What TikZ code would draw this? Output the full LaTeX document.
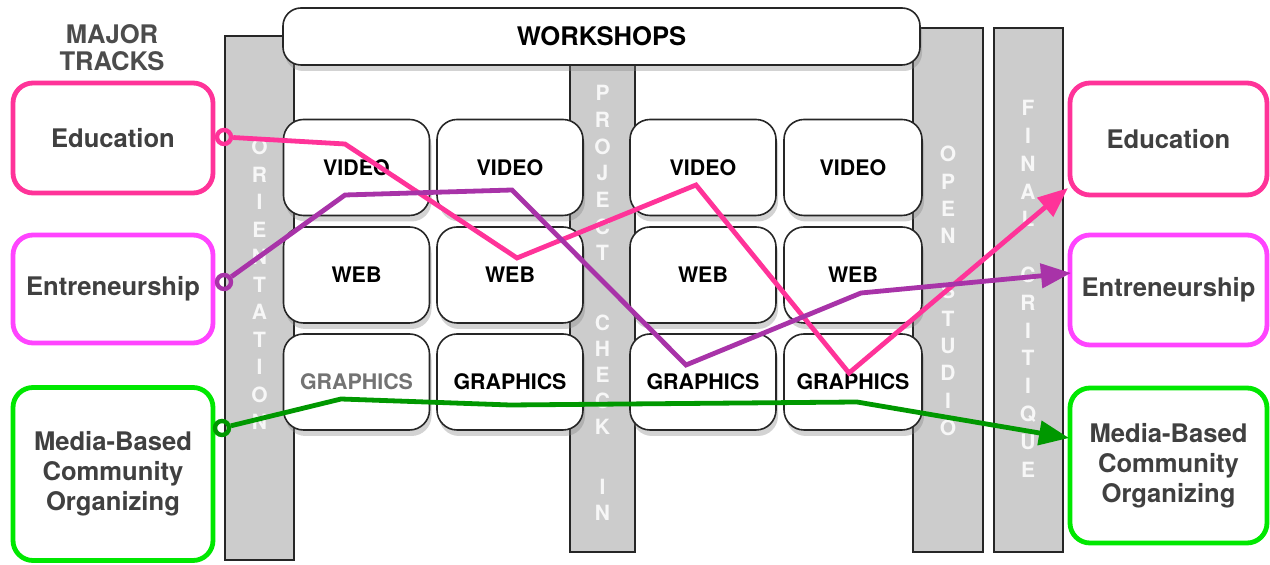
\documentclass[tikz,border=0pt]{standalone}
\usepackage{fontspec}
\setmainfont{TeX Gyre Heros}
\usetikzlibrary{positioning, arrows.meta, shadows}

\definecolor{edupink}{RGB}{255,51,153}
\definecolor{entmag}{RGB}{255,68,255}
\definecolor{entpurple}{RGB}{168,51,168}
\definecolor{mbgreen}{RGB}{0,232,0}
\definecolor{mbdark}{RGB}{0,152,0}
\definecolor{colgray}{RGB}{204,204,204}

\begin{document}
\begin{tikzpicture}[x=0.5pt, y=-0.5pt,
  track/.style={draw, line width=2.4pt, rounded corners=10pt, fill=white, align=center, text=black!75, font=\bfseries\fontsize{12.8}{15}\selectfont, minimum width=100pt},
  column/.style={draw=black!85, line width=0.8pt, fill=colgray},
  wsbox/.style={draw=black!85, line width=0.8pt, fill=white, rounded corners=10pt, minimum height=48pt, font=\bfseries\fontsize{10.7}{12}\selectfont, drop shadow={opacity=0.35, shadow xshift=1pt, shadow yshift=-3pt}},
  colletter/.style={text=white!97!black, font=\bfseries\fontsize{10.5}{10.5}\selectfont, inner sep=0pt},
  startdot/.style={circle, draw, line width=2.2pt, inner sep=0pt, minimum size=7pt},
  flow/.style={line width=2.4pt, -{Triangle[length=15pt, width=12pt]}}]

\useasboundingbox (0,0) rectangle (1270,565);

\node[text=black!70, align=center, font=\bfseries\fontsize{12.8}{13.5}\selectfont] (major) at (112,48) {MAJOR\\TRACKS};

\node[track, draw=edupink, minimum height=55pt] (eduL) at (113,138) {Education};
\node[track, draw=entmag, minimum height=54pt] (entL) at (113,289) {Entreneurship};
\node[track, draw=mbgreen, minimum height=86.5pt] (mbL) at (113,474) {Media-Based\\Community\\Organizing};

\node[track, draw=edupink, minimum width=98.5pt, minimum height=56pt] (eduR) at (1168.5,139) {Education};
\node[track, draw=entmag, minimum width=98.5pt, minimum height=55pt] (entR) at (1168.5,290) {Entreneurship};
\node[track, draw=mbgreen, minimum width=98.5pt, minimum height=77.5pt] (mbR) at (1168.5,465.5) {Media-Based\\Community\\Organizing};

\draw[column] (225,36) rectangle (294,560);
\draw[column] (570,60) rectangle (635,552);
\draw[column] (913,28) rectangle (983,552);
\draw[column] (994,28) rectangle (1063,552);

\foreach \l [count=\i from 0] in {O,R,I,E,N,T,A,T,I,O,N}
  \node[colletter] at (259.5,147+27.5*\i) {\l};
\foreach \l/\y in {P/93, R/120, O/147, J/173, E/200, C/227, T/253, C/323, H/349, E/375, C/401, K/427, I/487, N/513}
  \node[colletter] at (602.5,\y) {\l};
\foreach \l [count=\i from 0] in {O,P,E,N,{},S,T,U,D,I,O}
  \node[colletter] at (948,154+27.4*\i) {\l};
\foreach \l [count=\i from 0] in {F,I,N,A,L,{},C,R,I,T,I,Q,U,E}
  \node[colletter] at (1028,108+27.8*\i) {\l};

\node[wsbox, minimum width=318.5pt, minimum height=28.5pt, rounded corners=9pt, font=\bfseries\fontsize{12.8}{14}\selectfont] (workshops) at (601.5,36.5) {WORKSHOPS};

\foreach \c/\x/\w/\g in {1/356.5/73/black!55, 2/510/73/black, 3/703/73/black, 4/853/69/black} {
  \node[wsbox, minimum width=\w pt] (vid\c) at (\x,167.5) {VIDEO};
  \node[wsbox, minimum width=\w pt] (web\c) at (\x,275) {WEB};
  \node[wsbox, minimum width=\w pt, text=\g] (gfx\c) at (\x,382) {GRAPHICS};
}

\coordinate (e1) at (345,144);
\coordinate (e2) at (517,258);
\coordinate (e3) at (696,185);
\coordinate (e4) at (849,373);
\coordinate (e5) at (1068,188);

\coordinate (p1) at (345,195);
\coordinate (p2) at (512,190);
\coordinate (p3) at (686,365);
\coordinate (p4) at (861,293);
\coordinate (p5) at (1071,273);

\coordinate (g1) at (341,399);
\coordinate (g2) at (510,405);
\coordinate (g3) at (857,402);
\coordinate (g4) at (1069,438);

\node[startdot, draw=edupink] (eduStart) at (224,137) {};
\node[startdot, draw=entpurple] (entStart) at (224,282) {};
\node[startdot, draw=mbdark] (mbStart) at (222,428) {};

\draw[flow, edupink] (eduStart) -- (e1) -- (e2) -- (e3) -- (e4) -- (e5);
\draw[flow, entpurple] (entStart) -- (p1) -- (p2) -- (p3) -- (p4) -- (p5);
\draw[flow, mbdark] (mbStart) -- (g1) -- (g2) -- (g3) -- (g4);

\end{tikzpicture}
\end{document}
